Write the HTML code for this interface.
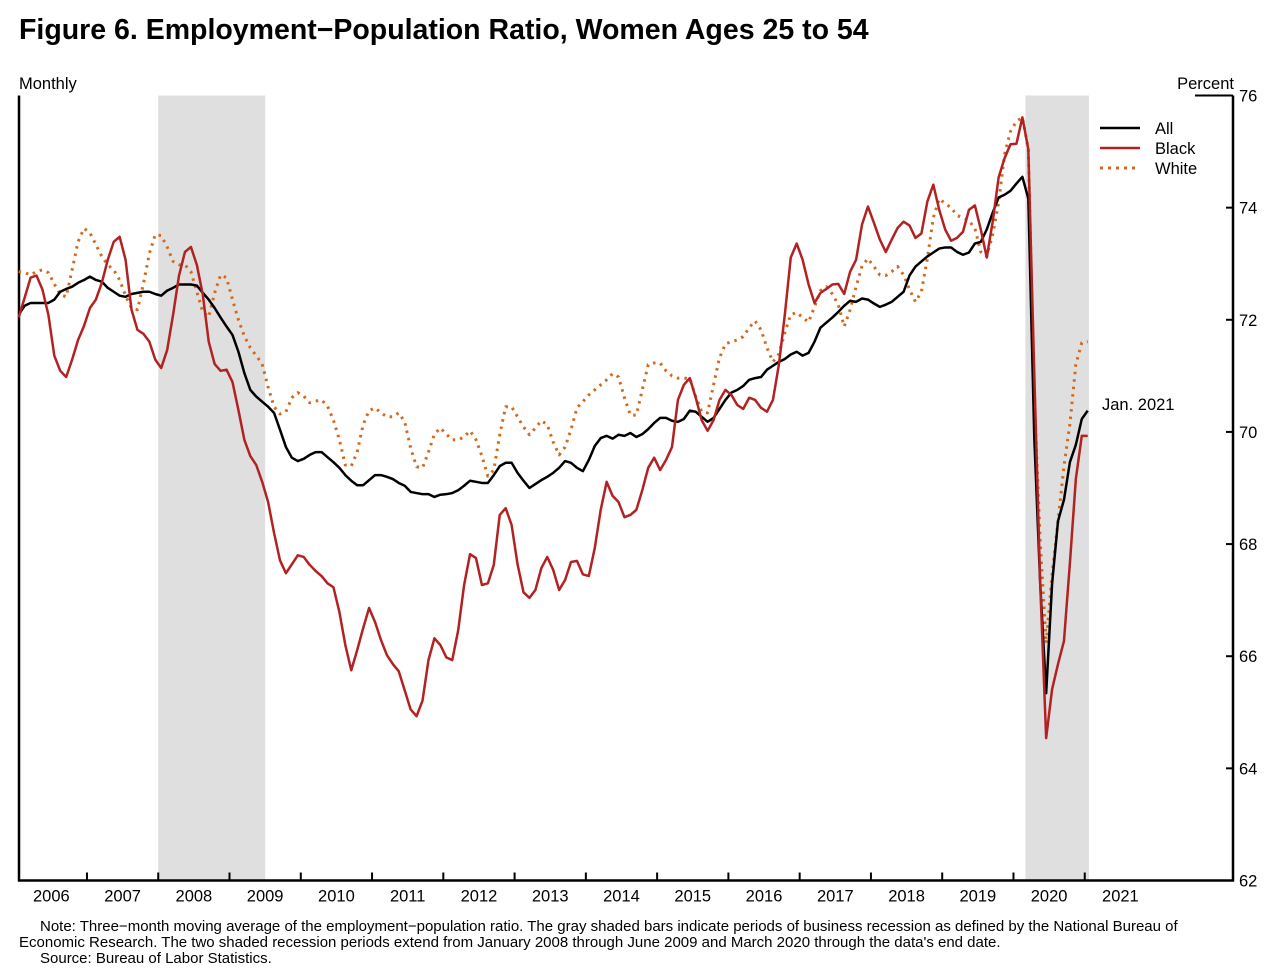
<!DOCTYPE html>
<html><head><meta charset="utf-8">
<style>
body{margin:0;background:#fff;font-family:"Liberation Sans",Arial,sans-serif;}
#wrap{position:relative;width:1271px;height:972px;overflow:hidden;}
svg text{font-family:"Liberation Sans",Arial,sans-serif;fill:#000;}
</style></head>
<body>
<div id="wrap">
<svg id="chart" width="1271" height="972">
  <text x="19" y="39" font-size="28.5" font-weight="bold">Figure 6. Employment−Population Ratio, Women Ages 25 to 54</text>
  <text x="19" y="89" font-size="16.5">Monthly</text>
  <text x="1234" y="89" font-size="16.5" text-anchor="end">Percent</text>
  <g id="shade"></g>
  <g id="axes"></g>
  <g id="series"></g>
  <g>
    <line x1="1100" y1="128" x2="1140" y2="128" stroke="#000" stroke-width="2.5"/>
    <text x="1155" y="134" font-size="16.5">All</text>
    <line x1="1100" y1="148" x2="1140" y2="148" stroke="#b22222" stroke-width="2.5"/>
    <text x="1155" y="154" font-size="16.5">Black</text>
    <line x1="1100" y1="168" x2="1140" y2="168" stroke="#d2691e" stroke-width="3" stroke-dasharray="3 5"/>
    <text x="1155" y="174" font-size="16.5">White</text>
  </g>
  <text x="1102" y="410" font-size="16.5">Jan. 2021</text>
  <text x="40" y="931" font-size="15">Note: Three−month moving average of the employment−population ratio. The gray shaded bars indicate periods of business recession as defined by the National Bureau of</text>
  <text x="19" y="947" font-size="15">Economic Research. The two shaded recession periods extend from January 2008 through June 2009 and March 2020 through the data's end date.</text>
  <text x="40" y="963" font-size="15">Source: Bureau of Labor Statistics.</text>
</svg>
</div>
<script>
// Monthly values, Jan 2006 .. Jan 2021 (percent)
const startYear = 2006;
const yTicks = [62, 64, 66, 68, 70, 72, 74, 76];
const yearLabels = ["2006","2007","2008","2009","2010","2011","2012","2013","2014","2015","2016","2017","2018","2019","2020","2021"];
const recessions = [[2008.0, 2009.5], [2020.167, 2021.06]];
const allSeries = [
72.09,72.25,72.30,72.30,72.30,72.30,72.36,72.50,72.55,72.59,
72.66,72.71,72.77,72.71,72.68,72.57,72.50,72.43,72.41,72.46,
72.48,72.50,72.50,72.46,72.43,72.52,72.57,72.63,72.63,72.63,
72.61,72.48,72.36,72.21,72.04,71.88,71.73,71.43,71.05,70.75,
70.63,70.54,70.45,70.34,70.04,69.73,69.54,69.48,69.52,69.59,
69.64,69.64,69.55,69.46,69.36,69.23,69.13,69.05,69.05,69.14,
69.23,69.23,69.20,69.16,69.09,69.04,68.93,68.91,68.89,68.89,
68.84,68.88,68.89,68.91,68.96,69.04,69.13,69.11,69.09,69.09,
69.23,69.39,69.45,69.45,69.27,69.13,69.00,69.07,69.14,69.20,
69.27,69.36,69.48,69.45,69.36,69.30,69.50,69.75,69.89,69.93,
69.88,69.95,69.93,69.98,69.91,69.96,70.05,70.16,70.25,70.25,
70.20,70.18,70.23,70.38,70.36,70.27,70.18,70.25,70.41,70.57,
70.70,70.75,70.82,70.93,70.96,70.98,71.11,71.18,71.25,71.30,
71.38,71.43,71.36,71.41,71.61,71.86,71.95,72.04,72.14,72.25,
72.34,72.32,72.38,72.36,72.29,72.23,72.27,72.32,72.41,72.50,
72.79,72.95,73.04,73.13,73.20,73.27,73.29,73.29,73.21,73.16,
73.20,73.36,73.39,73.61,73.91,74.18,74.23,74.30,74.43,74.55,
74.16,69.91,67.29,65.34,67.29,68.41,68.79,69.46,69.77,70.23,
70.38];
const blackSeries = [
72.04,72.39,72.75,72.79,72.54,72.09,71.36,71.09,70.98,71.29,
71.64,71.89,72.21,72.36,72.66,73.07,73.39,73.48,73.07,72.18,
71.82,71.75,71.61,71.29,71.14,71.46,72.09,72.79,73.21,73.30,
72.98,72.45,71.61,71.21,71.09,71.11,70.89,70.39,69.86,69.57,
69.41,69.11,68.75,68.20,67.71,67.48,67.64,67.80,67.77,67.63,
67.52,67.43,67.30,67.23,66.79,66.20,65.75,66.11,66.50,66.86,
66.61,66.29,66.02,65.86,65.73,65.39,65.05,64.93,65.21,65.93,
66.32,66.20,65.98,65.93,66.46,67.27,67.82,67.75,67.27,67.30,
67.63,68.52,68.64,68.34,67.64,67.14,67.04,67.18,67.57,67.77,
67.54,67.18,67.36,67.68,67.70,67.46,67.43,67.93,68.61,69.11,
68.86,68.75,68.48,68.52,68.61,68.96,69.36,69.54,69.32,69.50,
69.73,70.57,70.84,70.96,70.61,70.21,70.02,70.21,70.57,70.75,
70.66,70.48,70.41,70.61,70.57,70.43,70.36,70.57,71.20,72.09,
73.11,73.36,73.07,72.63,72.30,72.48,72.55,72.63,72.64,72.46,
72.86,73.07,73.70,74.02,73.73,73.43,73.21,73.43,73.64,73.75,
73.68,73.46,73.54,74.11,74.41,73.96,73.61,73.41,73.46,73.57,
73.96,74.04,73.61,73.11,73.75,74.54,74.88,75.13,75.14,75.61,
75.04,71.04,67.29,64.54,65.41,65.86,66.27,67.66,69.16,69.93,
69.93];
const whiteSeries = [
72.86,72.84,72.80,72.86,72.89,72.84,72.64,72.45,72.41,72.89,
73.39,73.63,73.55,73.34,73.13,72.98,72.89,72.71,72.43,72.21,
72.18,72.64,73.18,73.52,73.50,73.30,73.04,72.98,72.98,72.86,
72.50,72.14,72.05,72.48,72.80,72.75,72.36,72.00,71.71,71.50,
71.36,71.21,70.80,70.45,70.32,70.36,70.61,70.70,70.64,70.52,
70.55,70.57,70.46,70.21,69.86,69.41,69.39,69.64,70.13,70.38,
70.43,70.34,70.27,70.27,70.34,70.18,69.71,69.38,69.36,69.64,
69.96,70.07,69.96,69.86,69.86,69.91,70.02,69.86,69.57,69.21,
69.32,69.95,70.45,70.45,70.27,70.09,69.95,70.07,70.20,70.13,
69.82,69.59,69.73,70.04,70.43,70.54,70.66,70.75,70.84,70.93,
71.04,70.98,70.61,70.30,70.30,70.75,71.20,71.23,71.23,71.09,
71.00,70.96,70.96,70.95,70.63,70.36,70.34,70.84,71.32,71.57,
71.61,71.64,71.70,71.86,71.98,71.82,71.50,71.25,71.39,71.77,
72.09,72.13,72.04,71.96,72.23,72.52,72.59,72.46,72.27,71.88,
72.18,72.59,72.96,73.09,72.95,72.80,72.79,72.86,72.95,72.80,
72.54,72.32,72.50,73.09,73.82,74.16,74.07,74.00,73.86,73.82,
73.77,73.63,73.21,73.13,73.52,74.09,74.95,75.36,75.54,75.61,
75.04,70.66,68.04,66.23,67.45,68.41,69.39,70.14,71.20,71.59,
71.61];

const NS = "http://www.w3.org/2000/svg";
const plotL = 19, plotR = 1233, plotT = 95.5, plotB = 880.5;
const yMin = 62, yMax = 76;
const x0 = 15.7, perYear = 71.27; // Jan 2006 position, px per year
function xYear(t){ return x0 + (t - startYear) * perYear; }
function xMonth(i){ return xYear(startYear + (i + 0.5) / 12); }
function yVal(v){ return plotB - (v - yMin) / (yMax - yMin) * (plotB - plotT); }
function mk(tag, attrs, parent){
  const e = document.createElementNS(NS, tag);
  for (const k in attrs) e.setAttribute(k, attrs[k]);
  parent.appendChild(e);
  return e;
}
const shade = document.getElementById('shade');
recessions.forEach((r, k) => {
  const x1 = xYear(r[0]), x2 = Math.min(xYear(r[1]), 1089);
  const rc = mk('rect', {x: x1, y: plotT, width: x2 - x1, height: plotB - plotT, fill: '#dfdfdf'}, shade);
  
  
});
const axes = document.getElementById('axes');
const la = mk('line', {x1: plotL, y1: plotT, x2: plotL, y2: plotB + 1, stroke: '#000', 'stroke-width': 2.5}, axes);


const ba = mk('line', {x1: plotL - 1, y1: plotB, x2: plotR + 1, y2: plotB, stroke: '#000', 'stroke-width': 2.5}, axes);


const ra = mk('line', {x1: plotR, y1: plotT, x2: plotR, y2: plotB + 1, stroke: '#000', 'stroke-width': 2.5}, axes);


yTicks.forEach(v => {
  const y = yVal(v);
  const len = (v === yMax) ? 38 : 7;
  const t = mk('line', {x1: plotR - len, y1: y, x2: plotR, y2: y, stroke: '#000', 'stroke-width': 2}, axes);
  
  
  const lb = mk('text', {x: plotR + 6, y: y + 6, 'font-size': 16.5}, axes);
  lb.textContent = v;
  
  
});
yearLabels.forEach((s, k) => {
  const yr = +s;
  if (k > 0) {
    const tx = xYear(yr);
    const t = mk('line', {x1: tx, y1: plotB - 8, x2: tx, y2: plotB, stroke: '#000', 'stroke-width': 2}, axes);
    
    
  }
  const lb = mk('text', {x: xYear(yr + 0.5), y: plotB + 21, 'font-size': 16.5, 'text-anchor': 'middle'}, axes);
  lb.textContent = s;
  
  
});
const ser = document.getElementById('series');
function drawLine(vals, color, w, dash, name){
  const d = vals.map((v, i) => (i ? 'L' : 'M') + xMonth(i).toFixed(2) + ',' + yVal(v).toFixed(2)).join(' ');
  const attrs = {d: d, fill: 'none', stroke: color, 'stroke-width': w, 'stroke-linejoin': 'round'};
  if (dash) attrs['stroke-dasharray'] = dash;
  const p = mk('path', attrs, ser);
  
  
}
drawLine(whiteSeries, '#d2691e', 3, '2.5 5', 'line-white');
drawLine(allSeries, '#000', 2.5, null, 'line-all');
drawLine(blackSeries, '#b22222', 2.5, null, 'line-black');
</script>
</body></html>
